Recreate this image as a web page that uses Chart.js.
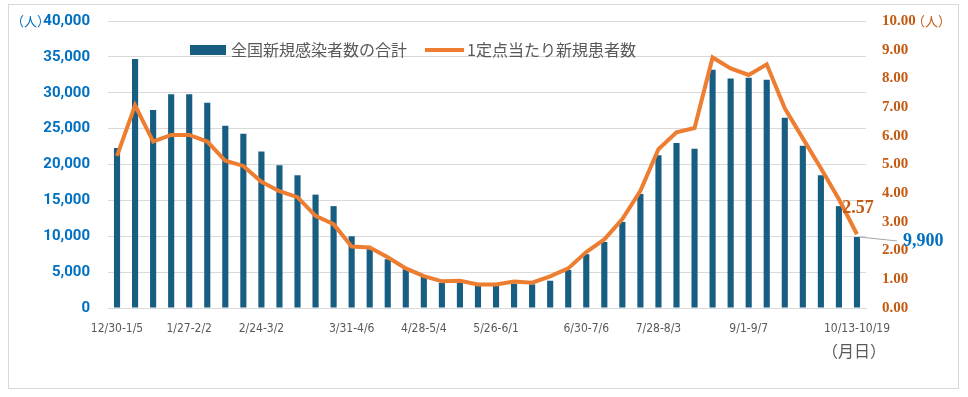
<!DOCTYPE html>
<html>
<head>
<meta charset="utf-8">
<script src="https://cdn.jsdelivr.net/npm/chart.js@4/dist/chart.umd.min.js"></script>
<style>
    html, body { margin: 0; padding: 0; background: #fff; }
    #wrap { position: relative; width: 968px; height: 397px; }
    #frame { position: absolute; left: 8px; top: 4px; width: 949px; height: 383px; border: 1px solid #d9d9d9; }
    #chart { position: absolute; left: 0; top: 0; }
</style>
</head>
<body>
<div id="wrap">
    <div id="frame"></div>
    <canvas id="chart" width="968" height="397"></canvas>
</div>
<script>
// weeks (Mon-Sun)
const weeks = [
    '12/30-1/5', '1/6-1/12', '1/13-1/19', '1/20-1/26', '1/27-2/2', '2/3-2/9', '2/10-2/16',
    '2/17-2/23', '2/24-3/2', '3/3-3/9', '3/10-3/16', '3/17-3/23', '3/24-3/30', '3/31-4/6',
    '4/7-4/13', '4/14-4/20', '4/21-4/27', '4/28-5/4', '5/5-5/11', '5/12-5/18', '5/19-5/25',
    '5/26-6/1', '6/2-6/8', '6/9-6/15', '6/16-6/22', '6/23-6/29', '6/30-7/6', '7/7-7/13',
    '7/14-7/20', '7/21-7/27', '7/28-8/3', '8/4-8/10', '8/11-8/17', '8/18-8/24', '8/25-8/31',
    '9/1-9/7', '9/8-9/14', '9/15-9/21', '9/22-9/28', '9/29-10/5', '10/6-10/12', '10/13-10/19'
];

// only these week labels are printed under the axis
const shownWeeks = ['12/30-1/5', '1/27-2/2', '2/24-3/2', '3/31-4/6', '4/28-5/4',
    '5/26-6/1', '6/30-7/6', '7/28-8/3', '9/1-9/7', '10/13-10/19'];

// 全国新規感染者数の合計 (left axis)
const totalCases = [
    22300, 34700, 27600, 29800, 29800, 28600, 25400, 24300, 21800, 19900,
    18500, 15800, 14200, 10000, 8200, 6800, 5400, 4350, 3500, 3500,
    3100, 3100, 3400, 3300, 3800, 5300, 7500, 9200, 12000, 15900,
    21300, 23000, 22200, 33200, 32000, 32100, 31800, 26500, 22600, 18500,
    14200, 9900
];

// 1定点当たり新規患者数 (right axis)
const perSentinel = [
    5.30, 7.06, 5.80, 6.03, 6.03, 5.80, 5.13, 4.95, 4.40, 4.07,
    3.86, 3.21, 2.92, 2.14, 2.11, 1.77, 1.38, 1.11, 0.93, 0.95,
    0.82, 0.82, 0.92, 0.88, 1.10, 1.38, 1.95, 2.39, 3.10, 4.08,
    5.53, 6.12, 6.27, 8.73, 8.35, 8.12, 8.49, 6.96, 5.91, 4.87,
    3.79, 2.57
];

const barLabel = '全国新規感染者数の合計';
const lineLabel = '1定点当たり新規患者数';

const BLUE_BAR = '#185e82';
const ORANGE = '#ed7d31';
const AXIS_BLUE = '#0070c0';
const AXIS_BROWN = '#c55a11';
const GREY_TEXT = '#595959';
const JP_FONT = "'Noto Sans CJK JP', 'Noto Sans', sans-serif";
const NARROW = "'Liberation Sans Narrow', 'DejaVu Sans Condensed', sans-serif";
const SERIF = "'Liberation Serif', 'DejaVu Serif', serif";

// legend, unit captions and the two value labels on the last week
const extras = {
    id: 'extras',
    afterDatasetsDraw(chart) {
        const ctx = chart.ctx;
        ctx.save();

        // legend
        ctx.fillStyle = BLUE_BAR;
        ctx.fillRect(190, 45, 36, 10);
        ctx.font = '16px ' + JP_FONT;
        ctx.fillStyle = GREY_TEXT;
        ctx.textBaseline = 'middle';
        ctx.textAlign = 'left';
        ctx.fillText(barLabel, 231, 50);

        ctx.strokeStyle = ORANGE;
        ctx.lineWidth = 4;
        ctx.beginPath();
        ctx.moveTo(425, 50);
        ctx.lineTo(464, 50);
        ctx.stroke();
        ctx.fillText(lineLabel, 467, 50);

        // units
        ctx.font = '13px ' + JP_FONT;
        ctx.fillStyle = AXIS_BLUE;
        ctx.fillText('（人）', 11, 21);
        ctx.fillStyle = AXIS_BROWN;
        ctx.fillText('（人）', 912, 21);
        ctx.font = '16px ' + JP_FONT;
        ctx.fillStyle = GREY_TEXT;
        ctx.fillText('（月日）', 822, 351);

        // last values
        const last = weeks.length - 1;
        const bar = chart.getDatasetMeta(1).data[last];
        const pt = chart.getDatasetMeta(0).data[last];

        ctx.strokeStyle = '#a6a6a6';
        ctx.lineWidth = 1;
        ctx.beginPath();
        ctx.moveTo(bar.x + 2, bar.y);
        ctx.lineTo(bar.x + 40, bar.y + 4);
        ctx.stroke();

        ctx.font = 'bold 18px ' + SERIF;
        ctx.fillStyle = AXIS_BLUE;
        ctx.fillText(totalCases[last].toLocaleString('en-US'), bar.x + 46, bar.y + 4);

        ctx.fillStyle = AXIS_BROWN;
        ctx.textAlign = 'center';
        ctx.fillText(perSentinel[last].toFixed(2), pt.x + 1, pt.y - 26);

        ctx.restore();
    }
};

// the tick padding would otherwise be added above the top grid line
function fixVertical(width) {
    return (scale) => {
        scale.width = width;
        scale.paddingTop = 8;
        scale.paddingBottom = 8;
    };
}

new Chart(document.getElementById('chart'), {
    data: {
        labels: weeks,
        datasets: [
            {
                type: 'line',
                label: lineLabel,
                data: perSentinel,
                yAxisID: 'y2',
                borderColor: ORANGE,
                borderWidth: 4,
                pointRadius: 0,
                tension: 0,
                order: 0
            },
            {
                type: 'bar',
                label: barLabel,
                data: totalCases,
                yAxisID: 'y',
                backgroundColor: BLUE_BAR,
                barPercentage: 0.34,
                categoryPercentage: 1,
                order: 1
            }
        ]
    },
    options: {
        responsive: false,
        animation: false,
        layout: { padding: { top: 21, left: 0, right: 0, bottom: 0 } },
        plugins: {
            legend: { display: false },
            tooltip: { enabled: false }
        },
        scales: {
            x: {
                grid: { display: false },
                border: { display: true, color: '#d9d9d9' },
                ticks: {
                    autoSkip: false,
                    maxRotation: 0,
                    padding: 6,
                    color: GREY_TEXT,
                    font: { family: NARROW, size: 12 },
                    callback: function (value, index) {
                        let w = weeks[index];
                        return shownWeeks.includes(w) ? w : '';
                    }
                },
                afterFit: (scale) => { scale.height = 89; }
            },
            y: {
                position: 'left',
                min: 0,
                max: 40000,
                grid: { color: '#d9d9d9', drawTicks: false },
                border: { display: false },
                ticks: {
                    stepSize: 5000,
                    padding: 18,
                    color: AXIS_BLUE,
                    font: { family: 'Roboto, sans-serif', size: 15, weight: 'bold' },
                    callback: (v) => v.toLocaleString('en-US')
                },
                afterFit: fixVertical(108)
            },
            y2: {
                position: 'right',
                min: 0,
                max: 10,
                grid: { display: false, drawTicks: false },
                border: { display: false },
                ticks: {
                    stepSize: 1,
                    padding: 16,
                    color: AXIS_BROWN,
                    font: { family: SERIF, size: 15, weight: 'bold' },
                    callback: (v) => v.toFixed(2)
                },
                afterFit: fixVertical(102)
            }
        }
    },
    plugins: [extras]
});
</script>
</body>
</html>
